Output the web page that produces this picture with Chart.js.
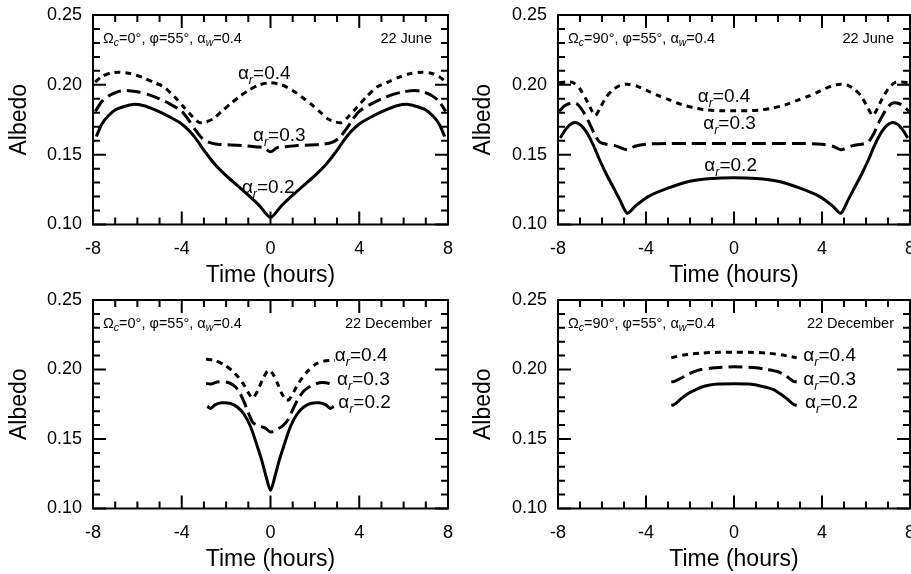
<!DOCTYPE html>
<html>
<head>
<meta charset="utf-8">
<script src="https://cdn.jsdelivr.net/npm/chart.js@4.4.1/dist/chart.umd.min.js"></script>
<style>
  body { margin: 0; background: #fff; }
  #wrap { position: relative; width: 911px; height: 574px; overflow: hidden; }
  canvas { position: absolute; }
</style>
</head>
<body>
<div id="wrap">
  <canvas id="c1" width="455" height="287" style="left:0;top:0"></canvas>
  <canvas id="c2" width="456" height="287" style="left:455px;top:0"></canvas>
  <canvas id="c3" width="455" height="287" style="left:0;top:287px"></canvas>
  <canvas id="c4" width="456" height="287" style="left:455px;top:287px"></canvas>
</div>
<script>
// Albedo vs. time, pairs of [hour, albedo]

// 22 June, Omega_c = 0
const juneC0_r02 = [[-7.85,0.163],[-7.6,0.172],[-7.3,0.178],[-7.0,0.182],[-6.6,0.1845],[-6.2,0.186],[-5.7,0.185],[-5.2,0.182],[-4.6,0.1775],[-4.0,0.172],[-3.6,0.166],[-3.3,0.160],[-2.9,0.151],[-2.5,0.143],[-2.0,0.135],[-1.5,0.128],[-1.0,0.121],[-0.5,0.1135],[0,0.105],
  [0.5,0.1135],[1.0,0.121],[1.5,0.128],[2.0,0.135],[2.5,0.143],[2.9,0.151],[3.3,0.160],[3.6,0.166],[4.0,0.172],[4.6,0.1775],[5.2,0.182],[5.7,0.185],[6.2,0.186],[6.6,0.1845],[7.0,0.182],[7.3,0.178],[7.6,0.172],[7.85,0.163]];
const juneC0_r03 = [[-7.9,0.181],[-7.6,0.188],[-7.3,0.192],[-6.9,0.195],[-6.5,0.196],[-6.0,0.195],[-5.5,0.193],[-5.0,0.190],[-4.5,0.186],[-4.0,0.181],[-3.7,0.175],[-3.4,0.168],[-3.1,0.162],[-2.8,0.159],[-2.4,0.1575],[-1.8,0.157],[-1.2,0.1565],[-0.6,0.1555],[-0.3,0.155],[0,0.152],
  [0.3,0.155],[0.6,0.1555],[1.2,0.1565],[1.8,0.157],[2.4,0.1575],[2.8,0.159],[3.1,0.162],[3.4,0.168],[3.7,0.175],[4.0,0.181],[4.5,0.186],[5.0,0.190],[5.5,0.193],[6.0,0.195],[6.5,0.196],[6.9,0.195],[7.3,0.192],[7.6,0.188],[7.9,0.181]];
const juneC0_r04 = [[-7.9,0.202],[-7.6,0.206],[-7.2,0.2085],[-6.8,0.209],[-6.3,0.208],[-5.8,0.2055],[-5.3,0.202],[-4.8,0.1985],[-4.3,0.191],[-3.9,0.184],[-3.5,0.177],[-3.2,0.173],[-2.9,0.1735],[-2.6,0.1755],[-2.2,0.181],[-1.8,0.1865],[-1.4,0.1915],[-1.0,0.196],[-0.5,0.200],[0,0.2015],
  [0.5,0.200],[1.0,0.196],[1.4,0.1915],[1.8,0.1865],[2.2,0.181],[2.6,0.1755],[2.9,0.1735],[3.2,0.173],[3.5,0.177],[3.9,0.184],[4.3,0.191],[4.8,0.1985],[5.3,0.202],[5.8,0.2055],[6.3,0.208],[6.8,0.209],[7.2,0.2085],[7.6,0.206],[7.9,0.202]];

// 22 June, Omega_c = 90
const juneC90_r02 = [[-7.9,0.162],[-7.7,0.167],[-7.45,0.1715],[-7.2,0.173],[-6.95,0.171],[-6.7,0.166],[-6.4,0.157],[-6.1,0.146],[-5.8,0.136],[-5.5,0.127],[-5.2,0.118],[-4.85,0.108],[-4.5,0.113],[-3.9,0.120],[-3.0,0.126],[-2.0,0.131],[-1.0,0.133],[0,0.1335],
  [1.0,0.133],[2.0,0.131],[3.0,0.126],[3.9,0.120],[4.5,0.113],[4.85,0.108],[5.2,0.118],[5.5,0.127],[5.8,0.136],[6.1,0.146],[6.4,0.157],[6.7,0.166],[6.95,0.171],[7.2,0.173],[7.45,0.1715],[7.7,0.167],[7.9,0.162]];
const juneC90_r03 = [[-7.95,0.181],[-7.7,0.185],[-7.4,0.187],[-7.15,0.1865],[-6.9,0.182],[-6.6,0.1735],[-6.35,0.165],[-6.1,0.159],[-5.8,0.1575],[-5.4,0.1565],[-4.85,0.1535],[-4.5,0.156],[-4.0,0.1575],[-3.0,0.158],[-2.0,0.158],[-1.0,0.158],[0,0.158],
  [1.0,0.158],[2.0,0.158],[3.0,0.158],[4.0,0.1575],[4.5,0.156],[4.85,0.1535],[5.4,0.1565],[5.8,0.1575],[6.1,0.159],[6.35,0.165],[6.6,0.1735],[6.9,0.182],[7.15,0.1865],[7.4,0.187],[7.7,0.185],[7.95,0.181]];
const juneC90_r04 = [[-7.95,0.2015],[-7.6,0.202],[-7.3,0.2015],[-7.0,0.197],[-6.7,0.189],[-6.45,0.181],[-6.3,0.178],[-6.1,0.183],[-5.8,0.1915],[-5.5,0.1965],[-5.2,0.1995],[-4.85,0.2005],[-4.4,0.199],[-3.9,0.1955],[-3.4,0.192],[-2.9,0.189],[-2.4,0.186],[-1.8,0.1835],[-1.2,0.182],[-0.6,0.1815],[0,0.1815],
  [0.6,0.1815],[1.2,0.182],[1.8,0.1835],[2.4,0.186],[2.9,0.189],[3.4,0.192],[3.9,0.1955],[4.4,0.199],[4.85,0.2005],[5.2,0.1995],[5.5,0.1965],[5.8,0.1915],[6.1,0.183],[6.3,0.178],[6.45,0.181],[6.7,0.189],[7.0,0.197],[7.3,0.2015],[7.6,0.202],[7.95,0.2015]];

// 22 December, Omega_c = 0
const decC0_r02 = [[-2.85,0.1735],[-2.7,0.172],[-2.5,0.1745],[-2.2,0.176],[-1.8,0.1755],[-1.5,0.173],[-1.2,0.168],[-0.9,0.159],[-0.6,0.145],[-0.4,0.135],[-0.2,0.123],[0,0.113],
  [0.2,0.123],[0.4,0.135],[0.6,0.145],[0.9,0.159],[1.2,0.168],[1.5,0.173],[1.8,0.1755],[2.2,0.176],[2.5,0.1745],[2.7,0.172],[2.85,0.1735]];
const decC0_r03 = [[-2.9,0.190],[-2.7,0.1895],[-2.4,0.191],[-2.0,0.191],[-1.7,0.189],[-1.45,0.185],[-1.2,0.177],[-1.0,0.169],[-0.8,0.162],[-0.55,0.1595],[-0.25,0.158],[0,0.155],
  [0.3,0.157],[0.55,0.1595],[0.8,0.164],[1.0,0.171],[1.25,0.179],[1.5,0.1845],[1.8,0.188],[2.2,0.1905],[2.5,0.1905],[2.75,0.1895],[2.9,0.190]];
const decC0_r04 = [[-2.9,0.2075],[-2.5,0.2065],[-2.1,0.2035],[-1.75,0.1995],[-1.45,0.1945],[-1.2,0.189],[-0.95,0.182],[-0.8,0.1795],[-0.6,0.184],[-0.35,0.193],[-0.1,0.1995],
  [0.1,0.197],[0.3,0.1905],[0.5,0.183],[0.7,0.178],[0.85,0.1785],[1.05,0.184],[1.3,0.191],[1.6,0.1975],[2.0,0.2035],[2.4,0.206],[2.7,0.2065],[2.9,0.2065]];

// 22 December, Omega_c = 90
const decC90_r02 = [[-2.85,0.1742],[-2.75,0.1745],[-2.6,0.1762],[-2.4,0.179],[-2.1,0.1825],[-1.8,0.185],[-1.5,0.1872],[-1.1,0.1888],[-0.7,0.1895],[0,0.1897],[0.7,0.1895],[1.1,0.1885],[1.5,0.187],[1.8,0.1855],[2.1,0.1825],[2.4,0.179],[2.6,0.1762],[2.75,0.1745],[2.85,0.1742]];
const decC90_r03 = [[-2.85,0.191],[-2.7,0.1915],[-2.5,0.193],[-2.2,0.1955],[-1.9,0.198],[-1.5,0.200],[-1.0,0.201],[0,0.202],[1.0,0.2012],[1.5,0.200],[2.0,0.1984],[2.3,0.196],[2.55,0.1932],[2.7,0.1915],[2.85,0.191]];
const decC90_r04 = [[-2.85,0.2085],[-2.3,0.2104],[-1.5,0.2118],[-0.7,0.2124],[0,0.2125],[0.7,0.2124],[1.5,0.2118],[2.2,0.2104],[2.85,0.2085]];

// axis ranges and tick labels
const xRange = [-8, 8];
const xLabelStep = 4;
const yRange = [0.10, 0.25];
const yLabelStep = 0.05;
const roofAlbedos = ['0.2', '0.3', '0.4'];

// curve label anchors [hour, albedo] per panel, in the order of roofAlbedos
const juneC0_labelPos = [[-1.29,0.1229],[-0.79,0.160],[-1.47,0.2043]];
const juneC90_labelPos = [[-1.35,0.1385],[-1.4,0.1685],[-1.65,0.1875]];
const decC0_labelPos = [[3.05,0.1723],[3.0,0.1888],[2.9,0.2061]];
const decC90_labelPos = [[3.23,0.1723],[3.15,0.1888],[3.15,0.2061]];

const FONT = '"Liberation Sans", Arial, Helvetica, sans-serif';
const dashStyles = [[], [14, 6], [6, 5]];

// draws a run of text pieces (for subscripts)
function drawParts(ctx, x, y, parts, align) {
    let widths = parts.map(p => {
        ctx.font = (p.italic ? 'italic ' : '') + p.size + 'px ' + FONT;
        return ctx.measureText(p.text).width;
    });
    let total = widths.reduce((a, b) => a + b, 0);
    let cx = align === 'right' ? x - total : x;
    parts.forEach((p, i) => {
        ctx.font = (p.italic ? 'italic ' : '') + p.size + 'px ' + FONT;
        ctx.fillText(p.text, cx, y + (p.dy || 0));
        cx += widths[i];
    });
}

// frame, inward ticks and the text annotations
const panelDecor = {
    id: 'panelDecor',
    afterDatasetsDraw(chart, args, opts) {
        const ctx = chart.ctx;
        const a = chart.chartArea;
        const xs = chart.scales.x, ys = chart.scales.y;
        ctx.save();
        ctx.strokeStyle = '#000';
        ctx.lineWidth = 2;
        ctx.strokeRect(a.left, a.top, a.right - a.left, a.bottom - a.top);

        ctx.beginPath();
        for (let t = xRange[0]; t <= xRange[1]; t++) {
            const px = xs.getPixelForValue(t);
            const len = t % xLabelStep === 0 ? 13 : 7;
            ctx.moveTo(px, a.bottom); ctx.lineTo(px, a.bottom - len);
            ctx.moveTo(px, a.top); ctx.lineTo(px, a.top + len);
        }
        for (let i = 10; i <= 25; i++) {
            const py = ys.getPixelForValue(i / 100);
            const len = i % 5 === 0 ? 13 : 7;
            ctx.moveTo(a.left, py); ctx.lineTo(a.left + len, py);
            ctx.moveTo(a.right, py); ctx.lineTo(a.right - len, py);
        }
        ctx.stroke();

        ctx.fillStyle = '#000';
        ctx.textBaseline = 'alphabetic';
        drawParts(ctx, a.left + 10, a.top + 28, [
            {text: '\u03A9', size: 14.5},
            {text: 'c', size: 10.5, italic: true, dy: 3},
            {text: '=' + opts.omega + '\u00B0, \u03C6=55\u00B0, \u03B1', size: 14.5},
            {text: 'w', size: 10.5, italic: true, dy: 3},
            {text: '=0.4', size: 14.5}
        ]);
        drawParts(ctx, a.right - 16, a.top + 28, [{text: opts.date, size: 14.5}], 'right');

        opts.labelPos.forEach((p, i) => {
            drawParts(ctx, xs.getPixelForValue(p[0]), ys.getPixelForValue(p[1]), [
                {text: '\u03B1', size: 19},
                {text: 'r', size: 12.5, italic: true, dy: 5},
                {text: '=' + roofAlbedos[i], size: 19}
            ]);
        });
        ctx.restore();
    }
};

function makePanel(id, series, decor, pad, yWidth, xHeight) {
    const datasets = series.map((s, i) => ({
        data: s.map(p => ({x: p[0], y: p[1]})),
        borderColor: '#000',
        borderWidth: 3,
        borderDash: dashStyles[i],
        pointRadius: 0,
        tension: 0.25,
        fill: false
    }));
    return new Chart(document.getElementById(id), {
        type: 'line',
        data: {datasets: datasets},
        plugins: [panelDecor],
        options: {
            responsive: false,
            animation: false,
            devicePixelRatio: 1,
            layout: {padding: pad},
            plugins: {
                legend: {display: false},
                tooltip: {enabled: false},
                panelDecor: decor
            },
            scales: {
                x: {
                    type: 'linear',
                    min: xRange[0], max: xRange[1],
                    grid: {display: false, drawTicks: false},
                    border: {display: false},
                    ticks: {stepSize: xLabelStep, padding: 14, color: '#000', maxRotation: 0, autoSkip: false,
                            font: {size: 18, family: FONT}},
                    title: {display: true, text: 'Time (hours)', color: '#000', padding: 0,
                            font: {size: 23, family: FONT, lineHeight: 1}},
                    afterFit: s => { s.height = xHeight; s.paddingLeft = 0; s.paddingRight = 0; }
                },
                y: {
                    min: yRange[0], max: yRange[1],
                    grid: {display: false, drawTicks: false},
                    border: {display: false},
                    ticks: {stepSize: yLabelStep, padding: 11, color: '#000', autoSkip: false,
                            font: {size: 18, family: FONT},
                            callback: v => v.toFixed(2)},
                    title: {display: true, text: 'Albedo', color: '#000', padding: 0,
                            font: {size: 23, family: FONT, lineHeight: 1}},
                    afterFit: s => { s.width = yWidth; s.paddingTop = 0; s.paddingBottom = 0; }
                }
            }
        }
    });
}

makePanel('c1', [juneC0_r02, juneC0_r03, juneC0_r04],
    {omega: '0', date: '22 June', labelPos: juneC0_labelPos},
    {left: 8, right: 7, top: 15, bottom: 0}, 85, 62.5);
makePanel('c2', [juneC90_r02, juneC90_r03, juneC90_r04],
    {omega: '90', date: '22 June', labelPos: juneC90_labelPos},
    {left: 17, right: 1, top: 15, bottom: 0}, 86, 62.5);
makePanel('c3', [decC0_r02, decC0_r03, decC0_r04],
    {omega: '0', date: '22 December', labelPos: decC0_labelPos},
    {left: 8, right: 7, top: 13, bottom: 2.5}, 85, 63);
makePanel('c4', [decC90_r02, decC90_r03, decC90_r04],
    {omega: '90', date: '22 December', labelPos: decC90_labelPos},
    {left: 17, right: 1, top: 13, bottom: 2.5}, 86, 63);
</script>
</body>
</html>
